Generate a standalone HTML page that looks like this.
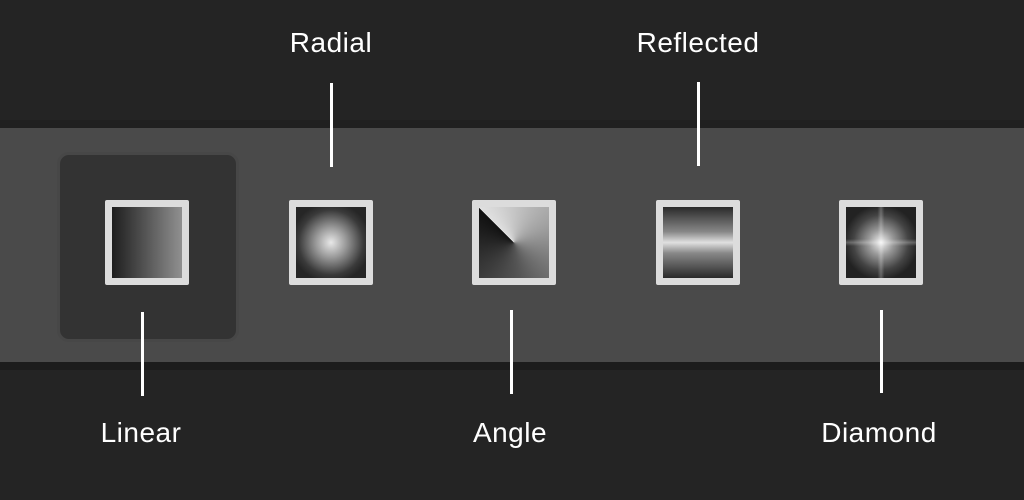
<!DOCTYPE html>
<html><head><style>
html,body{margin:0;padding:0}
body{width:1024px;height:500px;background:#242424;position:relative;overflow:hidden;font-family:"Liberation Sans",sans-serif}
.abs{position:absolute}
.band{left:0;top:128px;width:1024px;height:234px;background:#4a4a4a}
.sh1{left:0;top:120px;width:1024px;height:8px;background:#202020}
.sh2{left:0;top:362px;width:1024px;height:8px;background:#1c1c1c}
.sel{left:57px;top:152px;width:176px;height:184px;background:#333;border:3px solid #474747;border-radius:12px}
.ic{width:70px;height:71px;border:7px solid #dcdcdc;border-radius:2px}
.ln{width:3px;background:#fff}
.lb{color:#fff;font-size:28px;letter-spacing:0.5px;transform:translateX(-50%);white-space:nowrap;line-height:1}
</style></head><body>
<div class="abs sh1"></div>
<div class="abs band"></div>
<div class="abs sh2"></div>
<div class="abs sel"></div>
<div class="abs ic" style="left:105px;top:200px;background:linear-gradient(90deg,#1e1e1e,#909090)"></div>
<div class="abs ic" style="left:289px;top:200px;background:radial-gradient(circle at 50% 50%,#e8e8e8 0%,#9a9a9a 30%,#3a3a3a 65%,#262626 80%)"></div>
<div class="abs ic" style="left:472px;top:200px;background:conic-gradient(from 315deg at 50% 50%,#e0e0e0,#a0a0a0 30%,#555 60%,#222 90%,#111)"></div>
<div class="abs ic" style="left:656px;top:200px;background:linear-gradient(180deg,#2a2a2a,#888 35%,#e0e0e0 50%,#888 65%,#2a2a2a)"></div>
<div class="abs ic" style="left:839px;top:200px;background:linear-gradient(90deg,transparent 45%,rgba(255,255,255,.25) 50%,transparent 55%),linear-gradient(0deg,transparent 45%,rgba(255,255,255,.25) 50%,transparent 55%),radial-gradient(circle at 50% 50%,#f0f0f0 0%,#999 25%,#444 55%,#222 75%),#222"></div>
<div class="abs ln" style="left:141px;top:312px;height:84px"></div>
<div class="abs ln" style="left:330px;top:83px;height:84px"></div>
<div class="abs ln" style="left:510px;top:310px;height:84px"></div>
<div class="abs ln" style="left:697px;top:82px;height:84px"></div>
<div class="abs ln" style="left:880px;top:310px;height:83px"></div>
<div class="abs lb" style="left:331px;top:29px">Radial</div>
<div class="abs lb" style="left:698px;top:29px">Reflected</div>
<div class="abs lb" style="left:141px;top:419px">Linear</div>
<div class="abs lb" style="left:510px;top:419px">Angle</div>
<div class="abs lb" style="left:879px;top:419px">Diamond</div>
</body></html>
